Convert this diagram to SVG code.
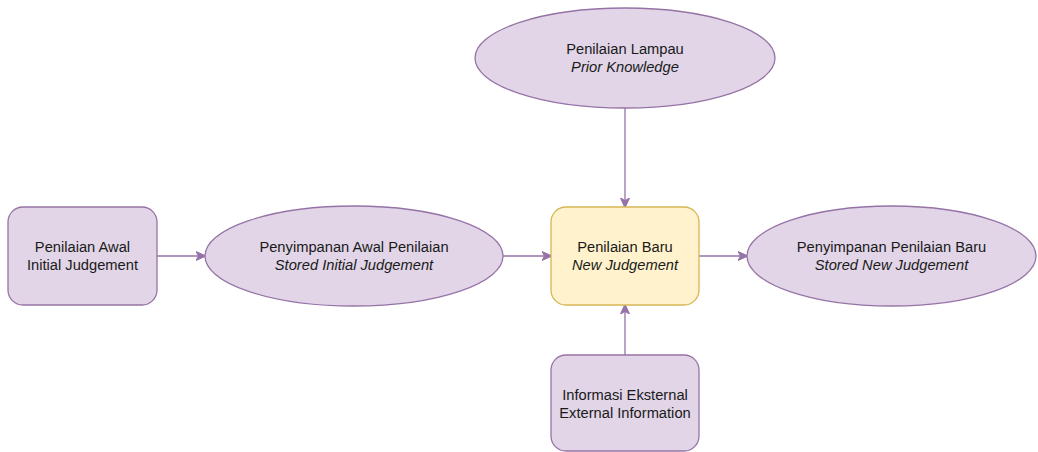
<svg xmlns="http://www.w3.org/2000/svg" width="1038" height="452" viewBox="0 0 1038 452">
<defs>
<marker id="arr" viewBox="0 0 10 10" refX="9" refY="5" markerWidth="10" markerHeight="10" markerUnits="userSpaceOnUse" orient="auto">
<path d="M0,0.5 L10,5 L0,9.5 L2.5,5 Z" fill="#9673a6" stroke="#9673a6" stroke-width="1"/>
</marker>
<style>
.p{fill:#e1d5e7;stroke:#9673a6;stroke-width:1.3}
.y{fill:#fff2cc;stroke:#d6b656;stroke-width:1.3}
text{font-family:"Liberation Sans",Arial,sans-serif;font-size:14.7px;fill:#1a1a1a;text-anchor:middle}
.i{font-style:italic}
.c{stroke:#9673a6;stroke-width:1.3;fill:none;marker-end:url(#arr)}
</style>
</defs>
<rect width="1038" height="452" fill="#ffffff"/>
<g id="connectors">
<line class="c" x1="157" y1="256" x2="205" y2="256"/>
<line class="c" x1="503" y1="256" x2="551" y2="256"/>
<line class="c" x1="699" y1="256" x2="747" y2="256"/>
<line class="c" x1="625" y1="108" x2="625" y2="207"/>
<line class="c" x1="625" y1="355" x2="625" y2="305"/>
</g>
<g id="initial">
<rect class="p" x="8" y="207" width="149" height="98" rx="15"/>
<text x="82.5" y="252">Penilaian Awal</text>
<text x="82.5" y="270">Initial Judgement</text>
</g>
<g id="stored-initial">
<ellipse class="p" cx="354" cy="256" rx="149" ry="50"/>
<text x="354" y="252">Penyimpanan Awal Penilaian</text>
<text class="i" x="354" y="270">Stored Initial Judgement</text>
</g>
<g id="new">
<rect class="y" x="551" y="207" width="148" height="98" rx="15"/>
<text x="625" y="252">Penilaian Baru</text>
<text class="i" x="625" y="270">New Judgement</text>
</g>
<g id="stored-new">
<ellipse class="p" cx="891.5" cy="256" rx="144.5" ry="50"/>
<text x="891.5" y="252">Penyimpanan Penilaian Baru</text>
<text class="i" x="891.5" y="270">Stored New Judgement</text>
</g>
<g id="prior">
<ellipse class="p" cx="625" cy="58" rx="150" ry="50"/>
<text x="625" y="54">Penilaian Lampau</text>
<text class="i" x="625" y="72">Prior Knowledge</text>
</g>
<g id="external">
<rect class="p" x="551" y="355" width="148" height="96" rx="15"/>
<text x="625" y="400">Informasi Eksternal</text>
<text x="625" y="418">External Information</text>
</g>
</svg>
